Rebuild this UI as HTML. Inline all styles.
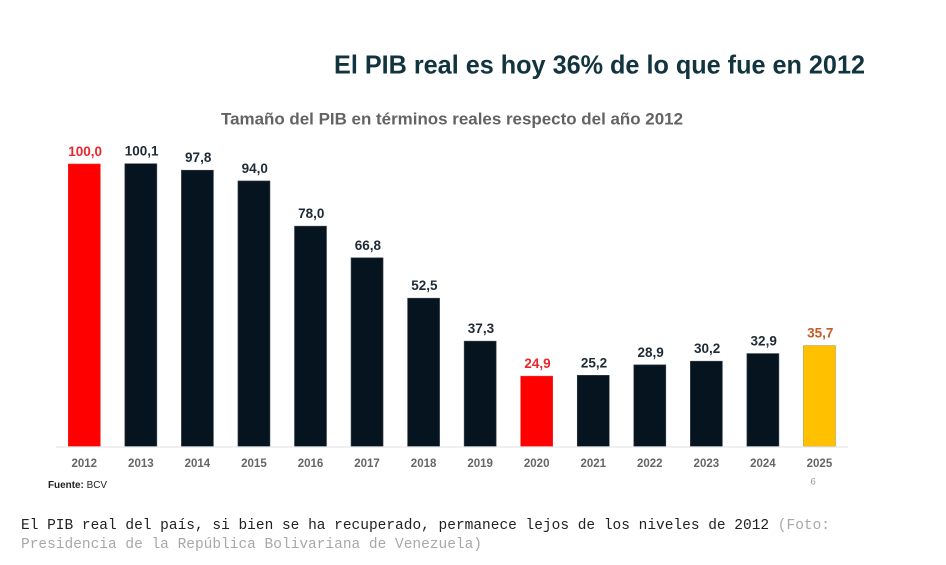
<!DOCTYPE html>
<html lang="es">
<head>
<meta charset="utf-8">
<title>PIB real</title>
<style>
  html,body{margin:0;padding:0;background:#fff;}
  #stage{position:relative;width:946px;height:565px;overflow:hidden;background:#fff;}
  svg{position:absolute;left:0;top:0;}
  text{font-family:"Liberation Sans",sans-serif;}
  .mono{font-family:"Liberation Mono",monospace;font-size:14.5px;}
</style>
</head>
<body>
<div id="stage">
<svg id="chart" width="946" height="565" viewBox="0 0 946 565">
  <text x="334" y="73.5" font-size="26" font-weight="700" fill="#12343f" textLength="531" lengthAdjust="spacingAndGlyphs">El PIB real es hoy 36% de lo que fue en 2012</text>
  <text x="221" y="124.5" font-size="16.5" font-weight="700" fill="#636363" textLength="462" lengthAdjust="spacingAndGlyphs">Tamaño del PIB en términos reales respecto del año 2012</text>
  <g id="bars"></g>
  <line x1="56" x2="848" y1="447" y2="447" stroke="#e8e8ec" stroke-width="1.2"></line>
  <g id="xlabels"></g>
  <text x="48" y="488" font-size="10" fill="#222" textLength="59" lengthAdjust="spacingAndGlyphs"><tspan font-weight="700">Fuente:</tspan> BCV</text>
  <text x="810.5" y="484.5" font-size="9.5" fill="#999">6</text>
  <text class="mono" x="21" y="529" fill="#222" textLength="809" lengthAdjust="spacing">El PIB real del país, si bien se ha recuperado, permanece lejos de los niveles de 2012 <tspan fill="#a8a8a8">(Foto:</tspan></text>
  <text class="mono" x="21" y="548" fill="#a8a8a8" textLength="461" lengthAdjust="spacing">Presidencia de la República Bolivariana de Venezuela)</text>
</svg>
</div>
<script>
const categories = ["2012","2013","2014","2015","2016","2017","2018","2019","2020","2021","2022","2023","2024","2025"];
const values = [100.0,100.1,97.8,94.0,78.0,66.8,52.5,37.3,24.9,25.2,28.9,30.2,32.9,35.7];

const NS = "http://www.w3.org/2000/svg";
const baseY = 446.5, unitPx = 2.825, firstX = 68.3, stepX = 56.55, barW = 32;
function xPos(i){ return firstX + i * stepX; }
function yPos(v){ return baseY - v * unitPx; }
function barColor(c){
  if (c === "2012" || c === "2020") return "#ff0000";
  if (c === "2025") return "#ffc000";
  return "#061420";
}
function labelColor(c){
  if (c === "2012" || c === "2020") return "#e9262b";
  if (c === "2025") return "#c55a22";
  return "#1f2a36";
}
const barsG = document.getElementById("bars");
const xG = document.getElementById("xlabels");
categories.forEach(function(c, i){
  const v = values[i];
  const r = document.createElementNS(NS, "rect");
  r.setAttribute("x", xPos(i));
  r.setAttribute("y", yPos(v));
  r.setAttribute("width", barW);
  r.setAttribute("height", baseY - yPos(v));
  r.setAttribute("fill", barColor(c));
  r.setAttribute("stroke", c === "2025" ? "#b8973a" : (c === "2012" || c === "2020") ? "#f03030" : "#3a444e");
  r.setAttribute("stroke-width", "0.6");
  
  
  barsG.appendChild(r);

  const t = document.createElementNS(NS, "text");
  t.setAttribute("x", xPos(i) + barW / 2 + 0.8);
  t.setAttribute("y", yPos(v) - 8);
  t.setAttribute("text-anchor", "middle");
  t.setAttribute("font-size", "13.5");
  t.setAttribute("font-weight", "700");
  t.setAttribute("fill", labelColor(c));
  t.textContent = v.toFixed(1).replace(".", ",");
  
  
  barsG.appendChild(t);

  const l = document.createElementNS(NS, "text");
  l.setAttribute("x", xPos(i) + barW / 2);
  l.setAttribute("y", 467);
  l.setAttribute("text-anchor", "middle");
  l.setAttribute("font-size", "11.5");
  l.setAttribute("font-weight", "700");
  l.setAttribute("fill", "#666");
  l.textContent = c;
  
  
  xG.appendChild(l);
});
</script>
</body>
</html>
